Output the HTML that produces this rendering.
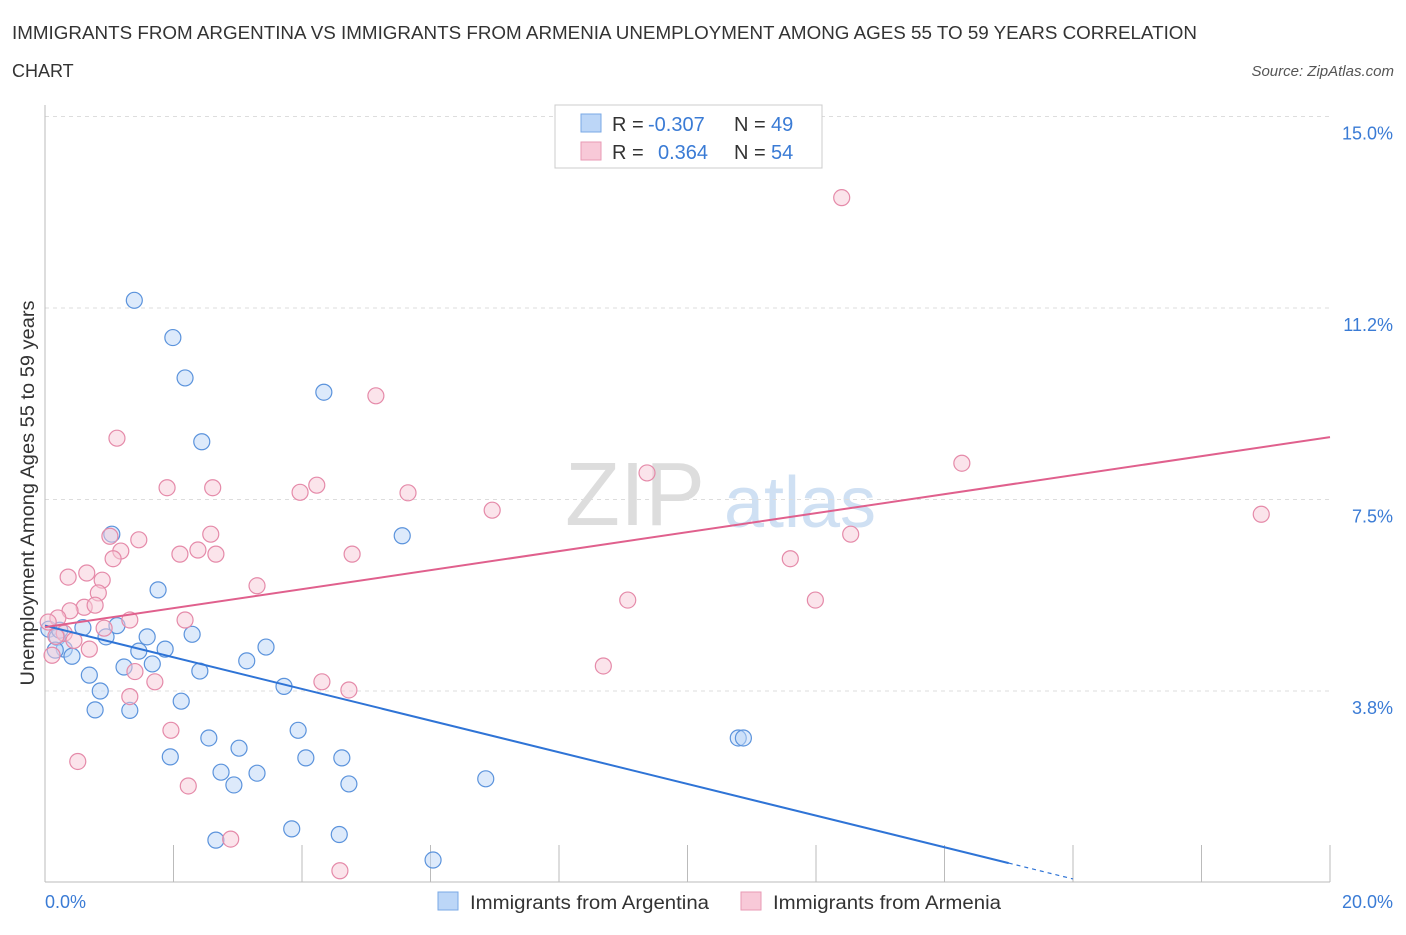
<!DOCTYPE html>
<html><head><meta charset="utf-8"><style>
body{margin:0;background:#fff;font-family:"Liberation Sans",sans-serif;}
svg text{font-family:"Liberation Sans",sans-serif;}
</style></head><body>
<svg id="chart" width="1406" height="930">
<text x="12" y="39" font-size="18" fill="#333" textLength="1185" lengthAdjust="spacingAndGlyphs">IMMIGRANTS FROM ARGENTINA VS IMMIGRANTS FROM ARMENIA UNEMPLOYMENT AMONG AGES 55 TO 59 YEARS CORRELATION</text>
<text x="12" y="77" font-size="18" fill="#333">CHART</text>
<text x="1394" y="76" font-size="15" fill="#555" font-style="italic" text-anchor="end">Source: ZipAtlas.com</text>
<text x="635" y="525" font-size="90" fill="#ddd" font-family="Liberation Serif" text-anchor="middle">ZIP</text>
<text x="800" y="527" font-size="72" fill="#cfe0f3" text-anchor="middle">atlas</text>
<g id="grid"></g><g id="axes"></g><g id="pts"></g><g id="lines"></g>
<text transform="translate(34,493) rotate(-90)" font-size="19" fill="#333" text-anchor="middle" textLength="385" lengthAdjust="spacingAndGlyphs">Unemployment Among Ages 55 to 59 years</text>
<g>
<rect x="555" y="105" width="267" height="63" fill="#fff" stroke="#ccc"/>
<rect x="581" y="114" width="20" height="18" fill="#bcd6f7" stroke="#7aa8e6"/>
<rect x="581" y="142" width="20" height="18" fill="#f8c9d8" stroke="#e89ab4"/>
<text x="612" y="131" font-size="20" fill="#333">R =</text>
<text x="648" y="131" font-size="20" fill="#3a7bd5">-0.307</text>
<text x="734" y="131" font-size="20" fill="#333">N =</text>
<text x="771" y="131" font-size="20" fill="#3a7bd5">49</text>
<text x="612" y="159" font-size="20" fill="#333">R =</text>
<text x="658" y="159" font-size="20" fill="#3a7bd5">0.364</text>
<text x="734" y="159" font-size="20" fill="#333">N =</text>
<text x="771" y="159" font-size="20" fill="#3a7bd5">54</text>
</g>
<g>
<rect x="438" y="892" width="20" height="18" fill="#bcd6f7" stroke="#7aa8e6"/>
<text x="470" y="909" font-size="19" fill="#333" textLength="239" lengthAdjust="spacingAndGlyphs">Immigrants from Argentina</text>
<rect x="741" y="892" width="20" height="18" fill="#f8c9d8" stroke="#e89ab4"/>
<text x="773" y="909" font-size="19" fill="#333" textLength="228" lengthAdjust="spacingAndGlyphs">Immigrants from Armenia</text>
</g>
</svg>
<script>
const yTicks=[3.75,7.5,11.25,15];
const yTickLabels=["3.8%","7.5%","11.2%","15.0%"];
const xTickLabels=["0.0%","20.0%"];
const argX=[1.39,1.99,2.18,2.44,4.34,5.56,1.04,1.76,1.12,0.59,2.29,0.06,0.19,0.95,1.59,0.30,0.42,1.46,1.87,3.44,1.67,1.23,3.14,2.41,0.69,0.86,3.72,2.12,0.78,1.32,3.94,2.55,3.02,10.79,10.87,1.95,4.06,4.62,2.74,3.30,2.94,4.73,6.86,3.84,4.58,2.66,6.04,0.16,0.23];
const argY=[11.4,10.67,9.88,8.63,9.6,6.79,6.82,5.73,5.03,4.99,4.86,4.96,4.80,4.81,4.81,4.57,4.43,4.53,4.57,4.61,4.28,4.22,4.34,4.14,4.06,3.75,3.84,3.55,3.38,3.37,2.98,2.83,2.63,2.83,2.83,2.46,2.44,2.44,2.16,2.14,1.91,1.93,2.03,1.05,0.94,0.83,0.44,4.55,4.94];
const armX=[12.4,5.15,1.12,14.27,9.37,1.90,2.61,4.23,3.97,5.65,6.96,18.93,0.65,2.58,1.01,1.46,12.54,1.18,2.10,2.38,2.66,4.78,1.06,0.36,0.89,11.6,3.30,0.83,9.07,11.99,0.61,0.78,0.39,0.20,1.32,2.18,0.05,0.92,0.30,0.17,0.45,0.69,8.69,1.40,1.71,4.31,4.73,1.32,1.96,0.51,2.23,2.89,4.59,0.11];
const armY=[13.41,9.53,8.7,8.21,8.02,7.73,7.73,7.78,7.64,7.63,7.29,7.21,6.06,6.82,6.78,6.71,6.82,6.49,6.43,6.51,6.43,6.43,6.34,5.98,5.92,6.34,5.81,5.67,5.53,5.53,5.39,5.43,5.32,5.18,5.14,5.14,5.1,4.98,4.88,4.82,4.74,4.57,4.24,4.13,3.93,3.93,3.77,3.64,2.98,2.37,1.89,0.85,0.23,4.45];
const argLine=[5.03,0.38];const armLine=[5.0,8.72];
const NS="http://www.w3.org/2000/svg";
const X=v=>45+v*64.25, Y=v=>882.5-v*51.07;
function mk(t,a,p){const e=document.createElementNS(NS,t);for(const k in a)e.setAttribute(k,a[k]);document.getElementById(p).appendChild(e);return e;}
yTicks.forEach((t,i)=>{
 const g=mk("line",{x1:45,x2:1330,y1:Y(t),y2:Y(t),stroke:"#ddd","stroke-dasharray":"4,4"},"grid");
 
 
 const l=mk("text",{x:1393,y:Y(t)+23,"font-size":18,fill:"#3a7bd5","text-anchor":"end"},"axes");l.textContent=yTickLabels[i];
 
 
});
mk("line",{x1:45,x2:45,y1:105,y2:882,stroke:"#bbb"},"axes");
mk("line",{x1:45,x2:1330,y1:882,y2:882,stroke:"#bbb"},"axes");
for(let i=1;i<=10;i++){const t=mk("line",{x1:X(i*2),x2:X(i*2),y1:845,y2:882,stroke:"#bbb"},"axes");
 
 }
[[0,"start",45],[20,"end",1393]].forEach((d,i)=>{const l=mk("text",{x:d[2],y:908,"font-size":18,fill:"#3a7bd5","text-anchor":d[1]},"axes");l.textContent=xTickLabels[i];
 
 });
function pts(xs,ys,f,s,n){xs.forEach((x,i)=>{const c=mk("circle",{cx:X(x),cy:Y(ys[i]),r:8,fill:f,"fill-opacity":0.5,stroke:s,"stroke-width":1.2},"pts");
 
 });}
pts(argX,argY,"#bcd6f7","#5b93dc","argentina-point");
pts(armX,armY,"#f8c9d8","#e58aa9","armenia-point");
const b=mk("line",{x1:X(0),y1:Y(argLine[0]),x2:X(15),y2:Y(argLine[1]),stroke:"#2f74d6","stroke-width":2},"lines");


const slope=(argLine[1]-argLine[0])/15;
const bd=mk("line",{x1:X(15),y1:Y(argLine[1]),x2:X(16),y2:Y(argLine[1]+slope),stroke:"#2f74d6","stroke-width":1.2,"stroke-dasharray":"4,4"},"lines");


const p=mk("line",{x1:X(0),y1:Y(armLine[0]),x2:X(20),y2:Y(armLine[1]),stroke:"#e0608d","stroke-width":2},"lines");


</script>
</body></html>
